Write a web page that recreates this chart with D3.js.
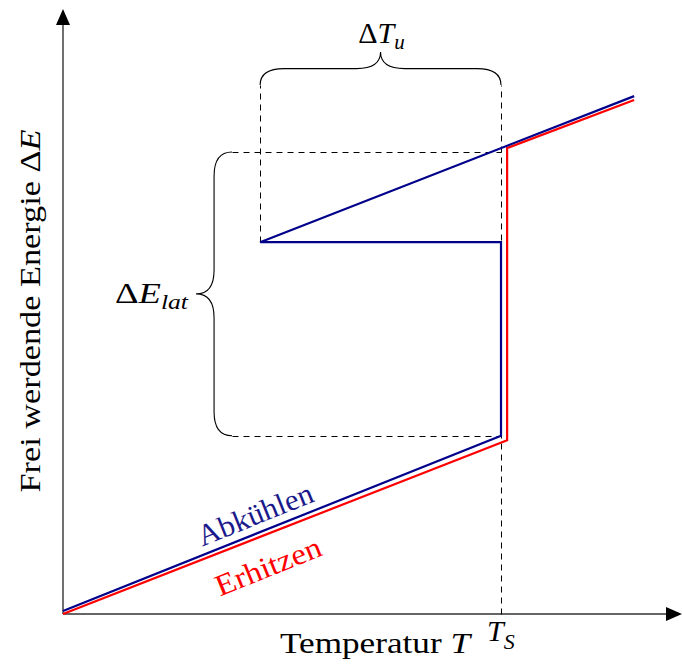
<!DOCTYPE html>
<html><head><meta charset="utf-8">
<script src="https://cdn.jsdelivr.net/npm/d3@7"></script>
<style>body{margin:0;background:#fff}svg{display:block}</style>
</head><body>
<svg id="c" width="682" height="666" style="font-family:'Liberation Serif','Times New Roman','DejaVu Serif',serif"></svg>
<script>
// Data (abstract units: T in units where Ts = 10)
const heatT = [0, 10.14, 10.14, 13.04];
const heatE = [0, 3.95, 10.59, 11.68];
const coolT = [13.04, 4.5, 10, 10, 0];
const coolE = [11.77, 8.45, 8.45, 4.05, 0.07];
const Ts = 10;
const supercoolT = 4.5;
const Elow = 4.05, Ehigh = 10.5, dashTop = 12.02, dashLeftT = 3.86;
const seriesLabels = ["Abkühlen", "Erhitzen"];

const svg = d3.select("#c");
const FF = "'Liberation Serif','Times New Roman','DejaVu Serif',serif";
const x = d3.scaleLinear().domain([0, 10]).range([63, 501]);
const y = d3.scaleLinear().domain([0, 10]).range([614, 174]);
const xMax = x.invert(667), yMax = y.invert(24);

// axes with arrows
const defs = svg.append("defs");
defs.append("marker").attr("id","arr").attr("viewBox","0 0 16 14").attr("refX",1).attr("refY",7)
  .attr("markerWidth",16).attr("markerHeight",14).attr("markerUnits","userSpaceOnUse").attr("orient","auto")
  .append("path").attr("d","M0,0 L16,7 L0,14 Z").attr("fill","#000");
svg.append("line").attr("x1",x(0)).attr("y1",y(0)).attr("x2",x(xMax)).attr("y2",y(0))
  .attr("stroke","#333").attr("stroke-width",1.4).attr("marker-end","url(#arr)");
svg.append("line").attr("x1",x(0)).attr("y1",y(0)).attr("x2",x(0)).attr("y2",y(yMax))
  .attr("stroke","#333").attr("stroke-width",1.4).attr("marker-end","url(#arr)");

// dashed helper lines
const dashes = [
  [[dashLeftT, Ehigh],[Ts, Ehigh]],
  [[dashLeftT, Elow],[Ts, Elow]],
  [[supercoolT, coolE[1]],[supercoolT, dashTop]],
  [[Ts, 0],[Ts, dashTop]]
];
svg.selectAll(".dash").data(dashes).join("line").attr("class","dash")
  .attr("x1",d=>Math.round(x(d[0][0]))+0.5).attr("y1",d=>Math.round(y(d[0][1]))+0.5)
  .attr("x2",d=>Math.round(x(d[1][0]))+0.5).attr("y2",d=>Math.round(y(d[1][1]))+0.5)
  .attr("stroke","#000").attr("stroke-width",1).attr("stroke-dasharray","6,5");

const line = d3.line().x(d=>x(d[0])).y(d=>y(d[1]));
svg.append("path").datum(heatT.map((t,i)=>[t,heatE[i]])).attr("d",line)
  .attr("fill","none").attr("stroke","#ff0000").attr("stroke-width",2.2).attr("stroke-linejoin","miter");
svg.append("path").datum(coolT.map((t,i)=>[t,coolE[i]])).attr("d",line)
  .attr("fill","none").attr("stroke","#00008b").attr("stroke-width",2.2).attr("stroke-linejoin","miter");

// braces
function hBrace(x1,x2,yb,h,r){
  const xm=(x1+x2)/2;
  return `M${x1},${yb} Q${x1},${yb-h} ${x1+r},${yb-h} L${xm-r},${yb-h} Q${xm},${yb-h} ${xm},${yb-2*h} `+
         `Q${xm},${yb-h} ${xm+r},${yb-h} L${x2-r},${yb-h} Q${x2},${yb-h} ${x2},${yb}`;
}
function vBrace(xb,y1,y2,h,r){
  const ym=(y1+y2)/2;
  return `M${xb},${y1} Q${xb-h},${y1} ${xb-h},${y1+r} L${xb-h},${ym-r} Q${xb-h},${ym} ${xb-2*h},${ym} `+
         `Q${xb-h},${ym} ${xb-h},${ym+r} L${xb-h},${y2-r} Q${xb-h},${y2} ${xb},${y2}`;
}
svg.append("path").attr("d",hBrace(x(supercoolT),x(Ts),y(dashTop),16.5,24))
  .attr("fill","none").attr("stroke","#000").attr("stroke-width",1.1);
svg.append("path").attr("d",vBrace(x(dashLeftT),y(Ehigh),y(Elow),18,24))
  .attr("fill","none").attr("stroke","#000").attr("stroke-width",1.1);

// labels
const t1 = svg.append("text").attr("x",(x(supercoolT)+x(Ts))/2+1).attr("y",43).attr("text-anchor","middle")
  .attr("font-size",30).attr("font-family",FF);
t1.append("tspan").text("Δ"); t1.append("tspan").attr("font-style","italic").text("T");
t1.append("tspan").attr("font-style","italic").attr("font-size",21).attr("dy",6).text("u");

const t2 = svg.append("text").attr("x",115).attr("y",303).attr("font-size",30).attr("font-family",FF)
  .attr("textLength",73).attr("lengthAdjust","spacingAndGlyphs");
t2.append("tspan").text("Δ"); t2.append("tspan").attr("font-style","italic").text("E");
t2.append("tspan").attr("font-style","italic").attr("font-size",21).attr("dy",6).text("lat");

const xl = svg.append("text").attr("x",280).attr("y",653).attr("font-size",30).attr("font-family",FF)
  .attr("textLength",190).attr("lengthAdjust","spacingAndGlyphs");
xl.append("tspan").text("Temperatur "); xl.append("tspan").attr("font-style","italic").text("T");

const ts = svg.append("text").attr("x",x(Ts)-14).attr("y",641).attr("font-size",30).attr("font-family",FF);
ts.append("tspan").attr("font-style","italic").text("T");
ts.append("tspan").attr("font-style","italic").attr("font-size",22).attr("dy",8).text("S");

const yl = svg.append("text").attr("transform","translate(40,311) rotate(-90)").attr("text-anchor","middle")
  .attr("font-size",30).attr("font-family",FF).attr("textLength",363).attr("lengthAdjust","spacingAndGlyphs");
yl.append("tspan").text("Frei werdende Energie Δ"); yl.append("tspan").attr("font-style","italic").text("E");

const ang = Math.atan2(y(0)-y(4),x(10)-x(0))*180/Math.PI;
svg.append("text").attr("transform",`translate(255,514) rotate(${-ang})`).attr("text-anchor","middle")
  .attr("dominant-baseline","central").attr("font-size",30).attr("font-family",FF)
  .attr("textLength",122).attr("lengthAdjust","spacingAndGlyphs").attr("fill","#1a1a8c").text(seriesLabels[0]);
svg.append("text").attr("transform",`translate(268,566) rotate(${-ang})`).attr("text-anchor","middle")
  .attr("dominant-baseline","central").attr("font-size",30).attr("font-family",FF)
  .attr("textLength",112).attr("lengthAdjust","spacingAndGlyphs").attr("fill","#ff0000").text(seriesLabels[1]);
</script>
</body></html>
